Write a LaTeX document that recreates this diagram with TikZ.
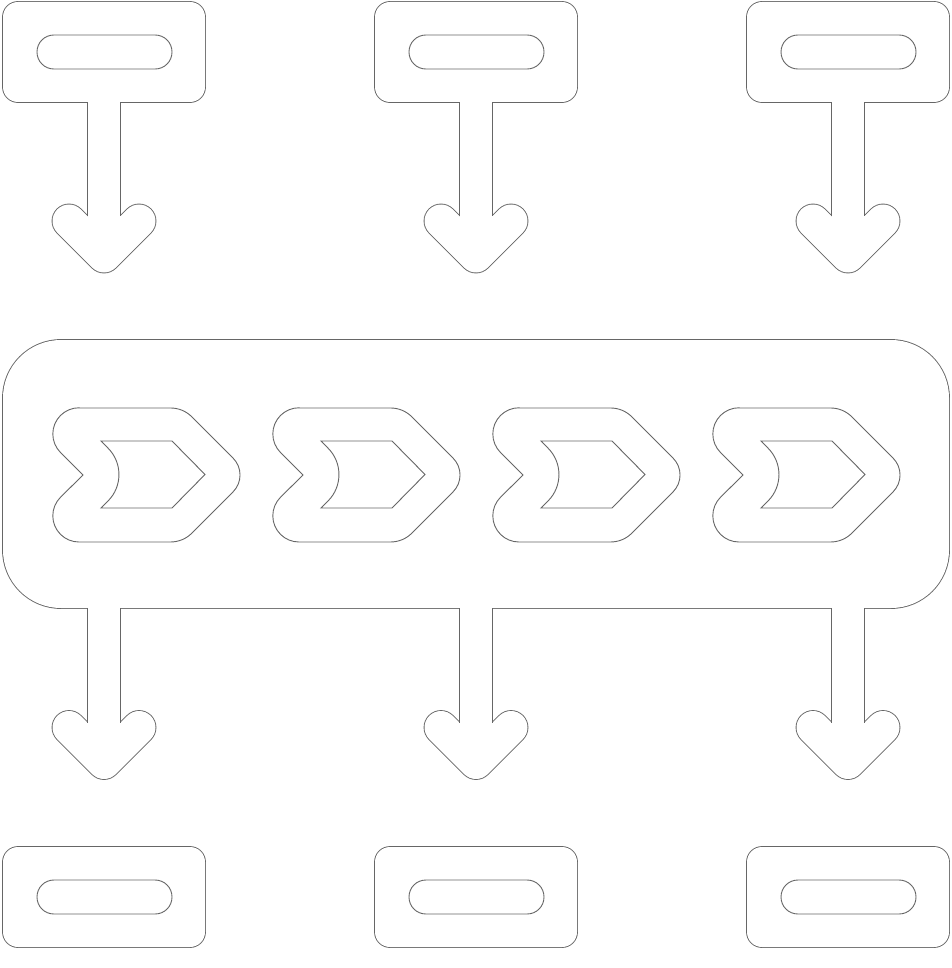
\documentclass[tikz,border=0pt]{standalone}
\begin{document}
\tikzset{
  olcol/.style={draw=black!60},
  olbox/.style={olcol, line width=1.8pt},
  olthin/.style={olcol, line width=0.9pt},
  olstroke/.style={olcol, line width=34.8pt},
  wstroke/.style={draw=white, line width=33pt},
  vshape/.style={line cap=round, line join=round},
}
\begin{tikzpicture}[x=1pt,y=-1pt]
\fill[white] (0,0) rectangle (951,968);
\useasboundingbox (0,0) rectangle (951,968);

% ---- pass 1: outlines of solid parts ----
\foreach \dx in {0,372,744} {
  \draw[olbox, rounded corners=15pt] (3+\dx,2) rectangle (205+\dx,102);
  \draw[olstroke, vshape] (69+\dx,221) -- (104+\dx,256) -- (139+\dx,221);
  \draw[olstroke, vshape] (69+\dx,727.5) -- (104+\dx,762.5) -- (139+\dx,727.5);
  \draw[olbox, rounded corners=15pt] (3+\dx,847) rectangle (205+\dx,947);
}
\draw[olbox, rounded corners=58pt] (3,340) rectangle (949,608);

% ---- pass 2: white bodies ----
\foreach \dx in {0,372,744} {
  \fill[white, rounded corners=15pt] (3+\dx,2) rectangle (205+\dx,102);
  \draw[wstroke, vshape] (69+\dx,221) -- (104+\dx,256) -- (139+\dx,221);
  \draw[wstroke] (104+\dx,90) -- (104+\dx,250);
  \draw[wstroke, vshape] (69+\dx,727.5) -- (104+\dx,762.5) -- (139+\dx,727.5);
  \draw[wstroke] (104+\dx,600) -- (104+\dx,755);
  \fill[white, rounded corners=15pt] (3+\dx,847) rectangle (205+\dx,947);
}
\fill[white, rounded corners=58pt] (3,340) rectangle (949,608);

% ---- pass 3: stem edges, slots and chevrons ----
\foreach \dx in {0,372,744} {
  \draw[olthin] (87.5+\dx,102.4) -- (87.5+\dx,216.2);
  \draw[olthin] (120.5+\dx,102.4) -- (120.5+\dx,216.2);
  \draw[olthin] (87.5+\dx,608.4) -- (87.5+\dx,722.7);
  \draw[olthin] (120.5+\dx,608.4) -- (120.5+\dx,722.7);
  \draw[olthin, rounded corners=16.9pt] (37+\dx,35) rectangle (172+\dx,69);
  \draw[olthin, rounded corners=16.9pt] (37+\dx,880) rectangle (172+\dx,914);
}
\foreach \cx in {0,220,440,660} {
  \begin{scope}[xshift=\cx pt]
    \draw[olthin] (79,408) -- (170.6,408)
      arc[start angle=270, end angle=315, radius=30] -- (233,458)
      arc[start angle=315, end angle=405, radius=24] -- (191.8,533.2)
      arc[start angle=45, end angle=90, radius=30] -- (79,542)
      arc[start angle=90, end angle=225, radius=26.2] -- (83,475) -- (60.5,452.5)
      arc[start angle=135, end angle=270, radius=26.2] -- cycle;
    \draw[olthin] (101,441) -- (172,441) -- (205,474.5) -- (172,508) -- (101,508) -- (108,501)
      arc[start angle=45, end angle=-45, radius=37.4] -- cycle;
  \end{scope}
}
\end{tikzpicture}
\end{document}
